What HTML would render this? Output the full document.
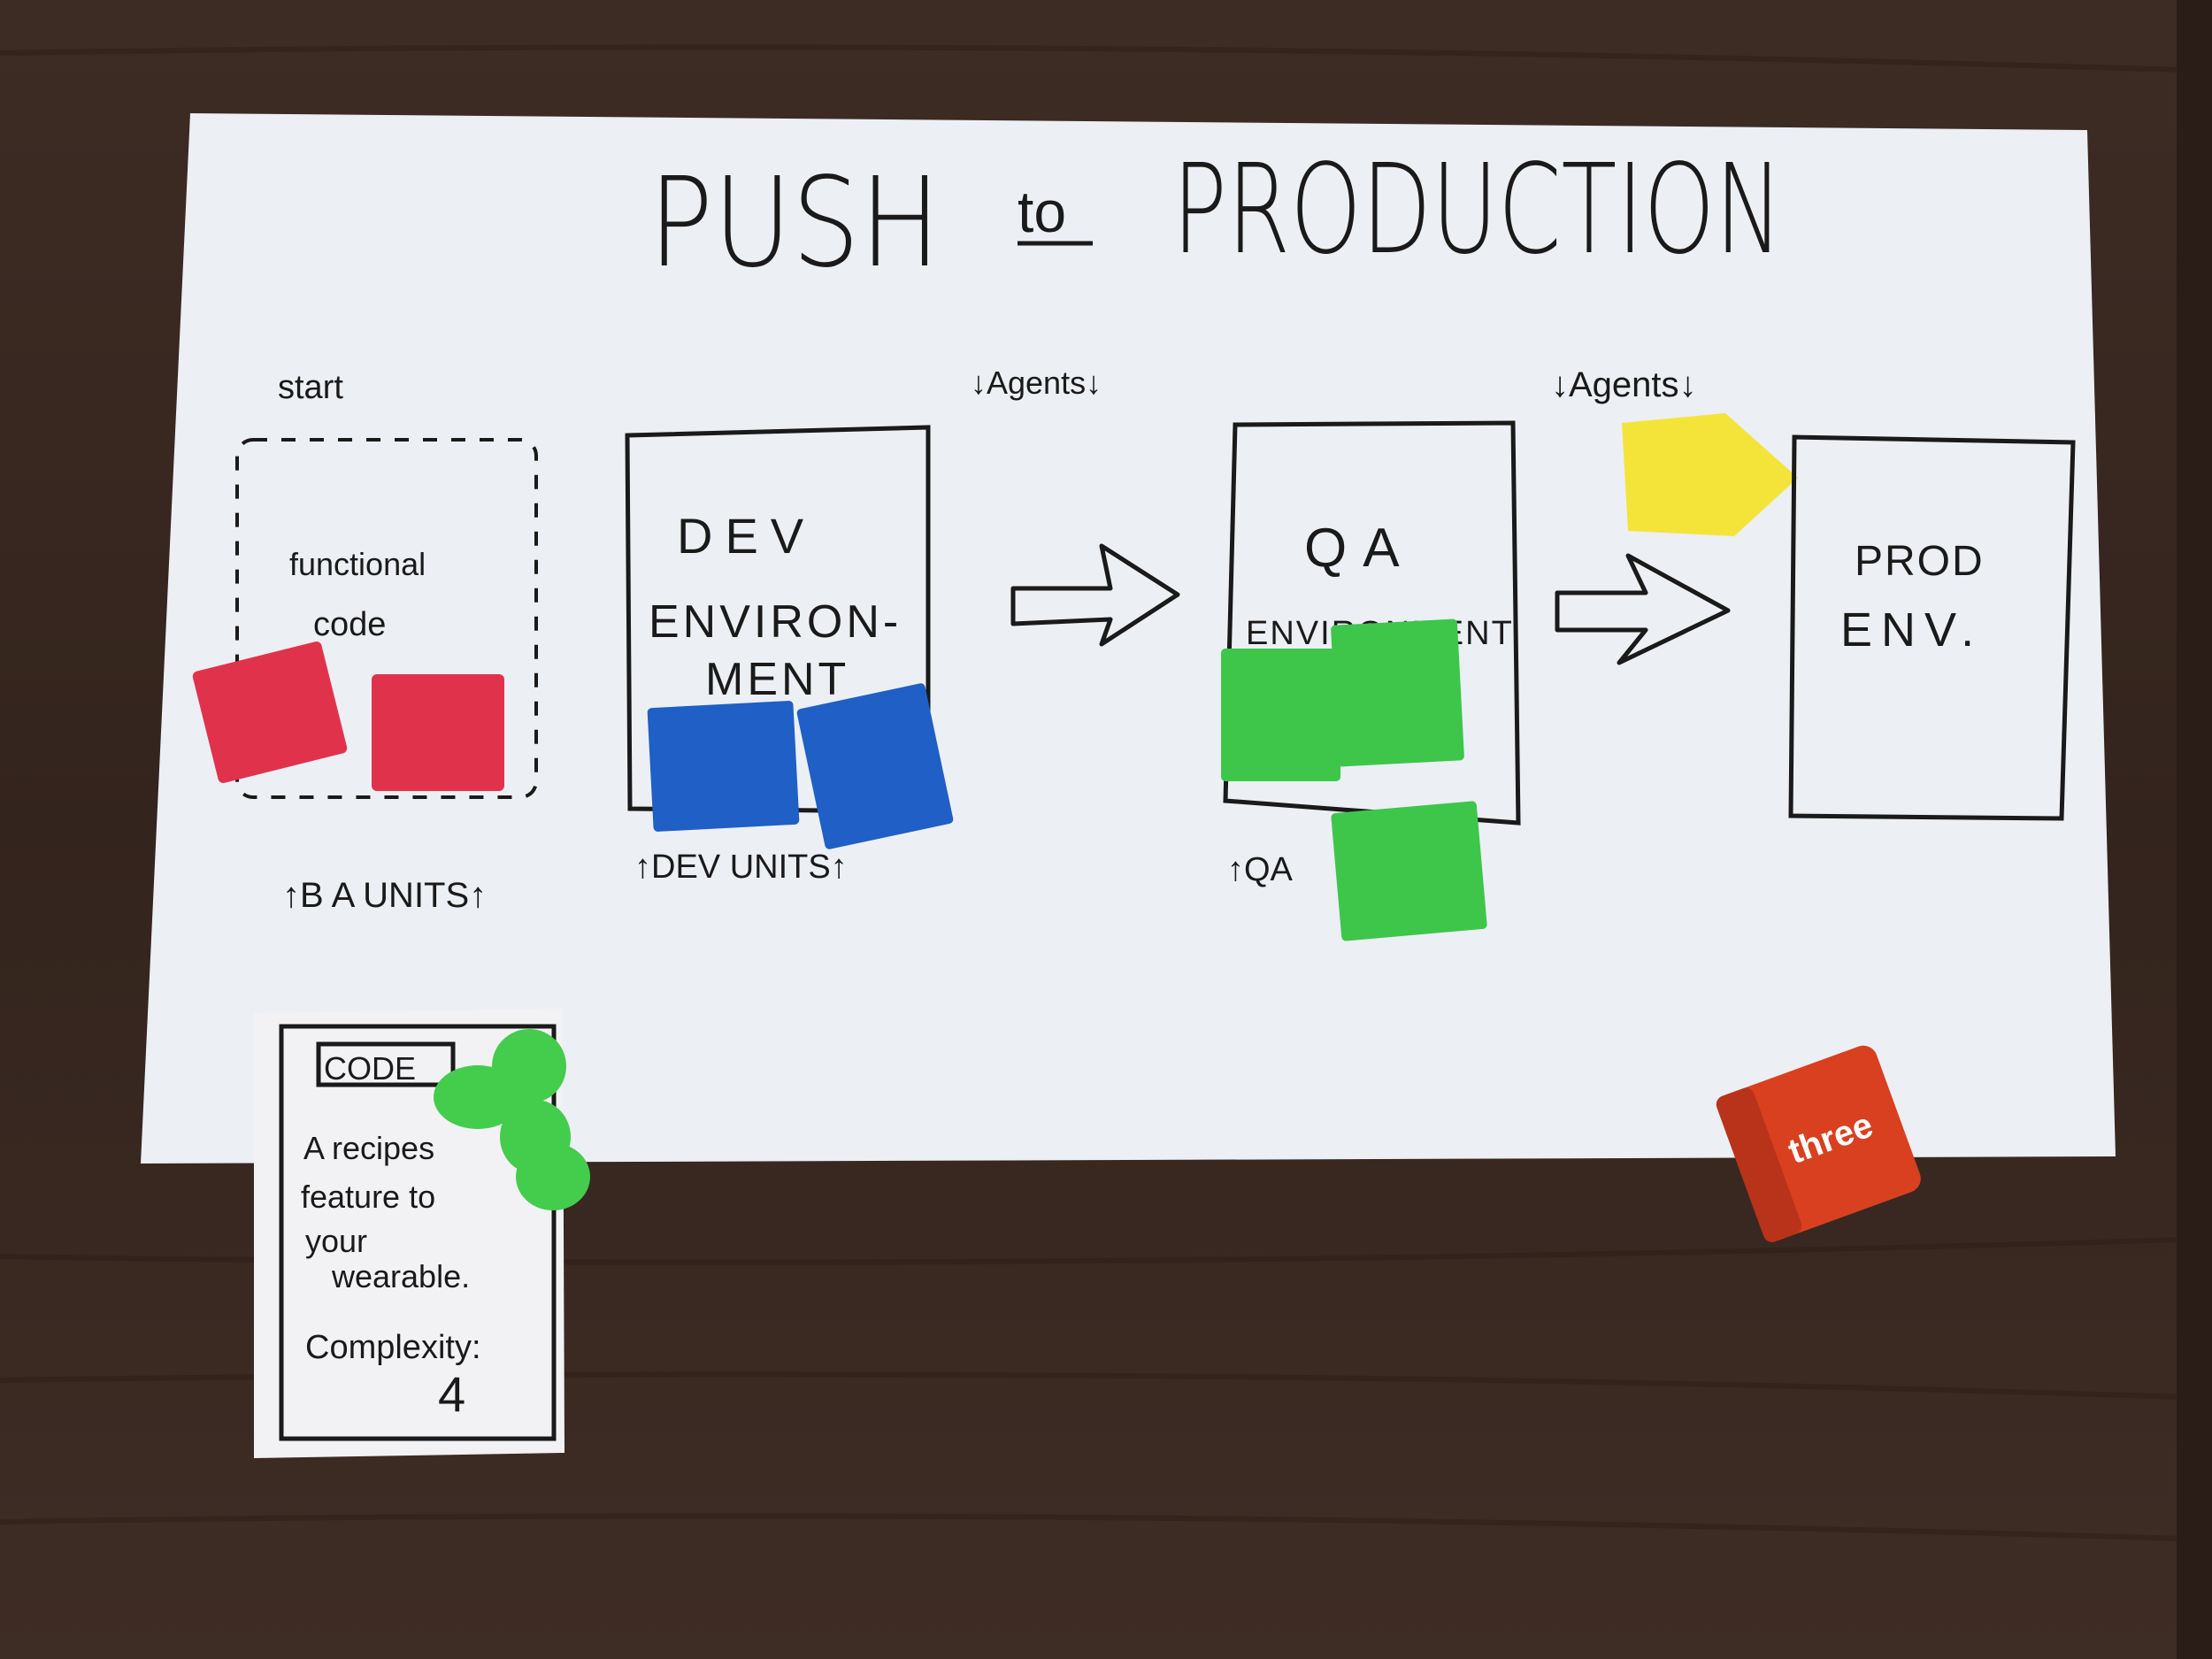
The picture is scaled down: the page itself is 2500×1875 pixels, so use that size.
<!DOCTYPE html>
<html><head><meta charset="utf-8"><style>
html,body{margin:0;padding:0;width:2500px;height:1875px;overflow:hidden;background:#3b2a22}
svg{display:block}
text{font-family:"Liberation Sans",sans-serif;fill:#1a1a1a}
.title{font-family:"DejaVu Sans","Liberation Sans",sans-serif;font-weight:200}
</style></head><body>
<svg width="2500" height="1875" viewBox="0 0 2500 1875" xmlns="http://www.w3.org/2000/svg">
<defs>
<linearGradient id="wood" x1="0" y1="0" x2="0" y2="1">
<stop offset="0" stop-color="#3d2c24"/><stop offset="0.5" stop-color="#33241d"/><stop offset="1" stop-color="#3e2d25"/>
</linearGradient>
</defs>
<rect width="2500" height="1875" fill="url(#wood)"/>
<g stroke="#2a1c16" stroke-width="6" opacity="0.5" fill="none">
<path d="M0 60 Q1200 40 2500 80"/><path d="M0 1420 Q1200 1440 2500 1400"/><path d="M0 1560 Q1300 1540 2500 1580"/><path d="M0 1720 Q1200 1700 2500 1740"/>
</g>
<rect x="2460" y="0" width="40" height="1875" fill="#2a1d18"/>
<!-- paper -->
<polygon points="215,128 2359,147 2391,1307 159,1315" fill="#eceff4"/>
<!-- title -->
<text class="title" x="733" y="300" font-size="140" textLength="330" lengthAdjust="spacingAndGlyphs">PUSH</text>
<text class="title" x="1325" y="285" font-size="140" textLength="690" lengthAdjust="spacingAndGlyphs">PRODUCTION</text>
<text x="1150" y="262" font-size="66">to</text>
<line x1="1150" y1="275" x2="1235" y2="275" stroke="#1a1a1a" stroke-width="5"/>
<!-- start -->
<text x="314" y="450" font-size="38">start</text>
<rect x="268" y="497" width="338" height="404" rx="18" fill="none" stroke="#1a1a1a" stroke-width="4" stroke-dasharray="16 16"/>
<text x="327" y="650" font-size="36">functional</text>
<text x="354" y="718" font-size="38">code</text>
<g fill="#e0334b">
<rect x="230" y="740" width="150" height="130" rx="6" transform="rotate(-14 305 805)"/>
<rect x="420" y="762" width="150" height="132" rx="6"/>
</g>
<text x="319" y="1025" font-size="40">↑B A  UNITS↑</text>
<!-- DEV -->
<polygon points="709,492 1049,483 1049,917 712,914" fill="none" stroke="#1a1a1a" stroke-width="5"/>
<text x="765" y="625" font-size="56" letter-spacing="14">DEV</text>
<text x="733" y="720" font-size="52" letter-spacing="4">ENVIRON-</text>
<text x="797" y="785" font-size="52" letter-spacing="4">MENT</text>
<g fill="#1f5fc6">
<rect x="735" y="796" width="165" height="140" rx="5" transform="rotate(-3 817 866)"/>
<rect x="915" y="785" width="148" height="162" rx="5" transform="rotate(-12 989 866)"/>
</g>
<text x="717" y="992" font-size="38">↑DEV UNITS↑</text>
<text x="1097" y="445" font-size="36">↓Agents↓</text>
<!-- arrow 1 -->
<path d="M1145 665 L1255 665 L1245 617 L1331 672 L1245 728 L1255 700 L1145 705 Z" fill="none" stroke="#1a1a1a" stroke-width="5" stroke-linejoin="round"/>
<!-- QA -->
<polygon points="1396,480 1710,478 1716,930 1385,905" fill="none" stroke="#1a1a1a" stroke-width="5"/>
<text x="1474" y="640" font-size="62" letter-spacing="18">QA</text>
<text x="1408" y="728" font-size="38" letter-spacing="2">ENVIRONMENT</text>
<g fill="#3ec64a">
<rect x="1380" y="733" width="135" height="150" rx="5"/>
<rect x="1508" y="703" width="143" height="160" rx="5" transform="rotate(-3 1580 783)"/>
<rect x="1510" y="912" width="165" height="145" rx="5" transform="rotate(-5 1592 984)"/>
</g>
<text x="1387" y="995" font-size="38">↑QA</text>
<text x="1753" y="448" font-size="40">↓Agents↓</text>
<!-- yellow token -->
<polygon points="1833,478 1950,467 2032,540 1960,606 1840,600" fill="#f4e43a"/>
<!-- arrow 2 -->
<path d="M1760 670 L1860 670 L1840 628 L1953 690 L1830 749 L1860 712 L1760 712 Z" fill="none" stroke="#1a1a1a" stroke-width="5" stroke-linejoin="round"/>
<!-- PROD -->
<polygon points="2028,494 2343,500 2330,925 2024,922" fill="none" stroke="#1a1a1a" stroke-width="5"/>
<text x="2096" y="650" font-size="48" letter-spacing="2">PROD</text>
<text x="2080" y="730" font-size="54" letter-spacing="10">ENV.</text>
<!-- card -->
<polygon points="287,1145 636,1140 638,1642 287,1648" fill="#f2f2f4"/>
<rect x="318" y="1160" width="308" height="466" fill="none" stroke="#1a1a1a" stroke-width="5"/>
<rect x="360" y="1180" width="152" height="46" fill="none" stroke="#1a1a1a" stroke-width="5"/>
<text x="366" y="1220" font-size="36">CODE</text>
<text x="343" y="1310" font-size="36">A recipes</text>
<text x="340" y="1365" font-size="36">feature to</text>
<text x="345" y="1415" font-size="36">your</text>
<text x="375" y="1455" font-size="36">wearable.</text>
<text x="345" y="1535" font-size="38">Complexity:</text>
<text x="495" y="1595" font-size="56">4</text>
<g fill="#44cc4c">
<ellipse cx="598" cy="1205" rx="42" ry="42"/>
<ellipse cx="540" cy="1240" rx="50" ry="36"/>
<ellipse cx="605" cy="1285" rx="40" ry="42"/>
<ellipse cx="625" cy="1330" rx="42" ry="38"/>
</g>
<!-- dice -->
<g transform="rotate(-20 2054 1289)">
<rect x="1960" y="1205" width="190" height="175" rx="16" fill="#d9401f"/>
<rect x="1960" y="1205" width="45" height="175" rx="10" fill="#b8331a"/>
<text x="2020" y="1305" font-size="40" font-weight="bold" style="fill:#fff">three</text>
</g>
</svg>
</body></html>
